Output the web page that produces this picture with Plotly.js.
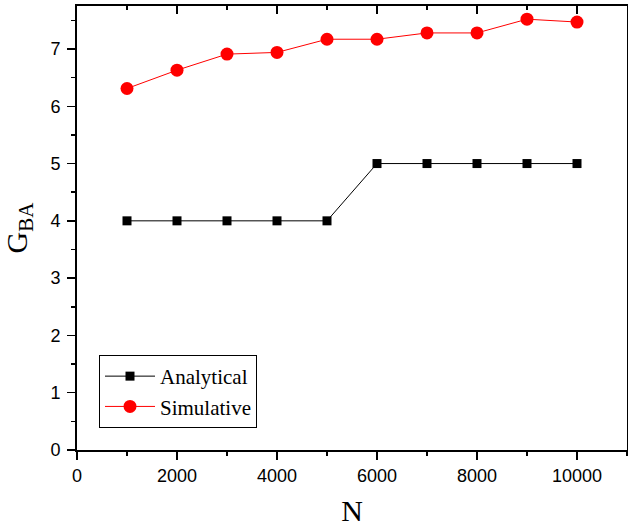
<!DOCTYPE html>
<html>
<head>
<meta charset="utf-8">
<script src="https://cdn.plot.ly/plotly-3.0.1.min.js"></script>
<style>html,body{margin:0;padding:0;background:#fff;}#chart{width:628px;height:527px;}</style>
</head>
<body>
<div id="chart"></div>
<script>
const N = [1000, 2000, 3000, 4000, 5000, 6000, 7000, 8000, 9000, 10000];
const analytical = [4, 4, 4, 4, 4, 5, 5, 5, 5, 5];
const simulative = [6.31, 6.63, 6.91, 6.94, 7.17, 7.17, 7.28, 7.28, 7.52, 7.47];
const xTicks = [0, 2000, 4000, 6000, 8000, 10000];
const yTicks = [0, 1, 2, 3, 4, 5, 6, 7];

const traces = [
  {x: N, y: analytical, name: 'Analytical', mode: 'lines+markers',
   line: {color: '#000', width: 1}, marker: {symbol: 'square', size: 9, color: '#000'}},
  {x: N, y: simulative, name: 'Simulative', mode: 'lines+markers',
   line: {color: '#ff0000', width: 1}, marker: {symbol: 'circle', size: 13, color: '#ff0000'}}
];

const layout = {
  width: 628, height: 527,
  margin: {l: 77, r: 1, t: 6, b: 77},
  paper_bgcolor: '#fff', plot_bgcolor: '#fff',
  showlegend: true,
  legend: {x: 0.04, y: 0.214, xanchor: 'left', yanchor: 'top',
    bordercolor: '#000', borderwidth: 1, bgcolor: '#fff',
    font: {family: 'Liberation Serif, Times New Roman, serif', size: 21, color: '#000'},
    tracegroupgap: 0, itemwidth: 50},
  xaxis: {range: [0, 11000], tickvals: xTicks, ticktext: xTicks.map(String),
    ticks: 'outside', ticklen: 8, tickwidth: 1.5, tickcolor: '#000',
    minor: {dtick: 1000, tick0: 0, ticks: 'outside', ticklen: 4, tickwidth: 1.5, tickcolor: '#000'},
    showline: true, linecolor: '#000', linewidth: 2, mirror: true,
    showgrid: false, zeroline: false,
    tickfont: {family: 'Liberation Sans, Arial, sans-serif', size: 18, color: '#000'},
    title: {text: 'N', font: {family: 'Liberation Serif, Times New Roman, serif', size: 30, color: '#000'}, standoff: 22},
    automargin: false},
  xaxis2: {range: [0, 11000], overlaying: 'x', side: 'top', matches: 'x',
    tickvals: xTicks, showticklabels: false, ticks: 'inside', ticklen: 8, tickwidth: 1.5, tickcolor: '#000',
    minor: {dtick: 1000, tick0: 0, ticks: 'inside', ticklen: 4, tickwidth: 1.5, tickcolor: '#000'},
    showgrid: false, zeroline: false, showline: false},
  yaxis: {range: [0, 7.75], tickvals: yTicks, ticktext: yTicks.map(String),
    ticks: 'outside', ticklen: 8, tickwidth: 1.5, tickcolor: '#000', ticklabelstandoff: 3,
    minor: {dtick: 0.5, tick0: 0, ticks: 'outside', ticklen: 4, tickwidth: 1.5, tickcolor: '#000'},
    showline: true, linecolor: '#000', linewidth: 2, mirror: true,
    showgrid: false, zeroline: false,
    tickfont: {family: 'Liberation Sans, Arial, sans-serif', size: 18, color: '#000'},
    title: {text: 'G<sub>BA</sub>', font: {family: 'Liberation Serif, Times New Roman, serif', size: 30, color: '#000'}, standoff: 15},
    automargin: false}
};

Plotly.newPlot('chart', traces.concat([{x: [], y: [], xaxis: 'x2', showlegend: false, hoverinfo: 'skip'}]), layout, {displayModeBar: false, staticPlot: true});
</script>
</body>
</html>
